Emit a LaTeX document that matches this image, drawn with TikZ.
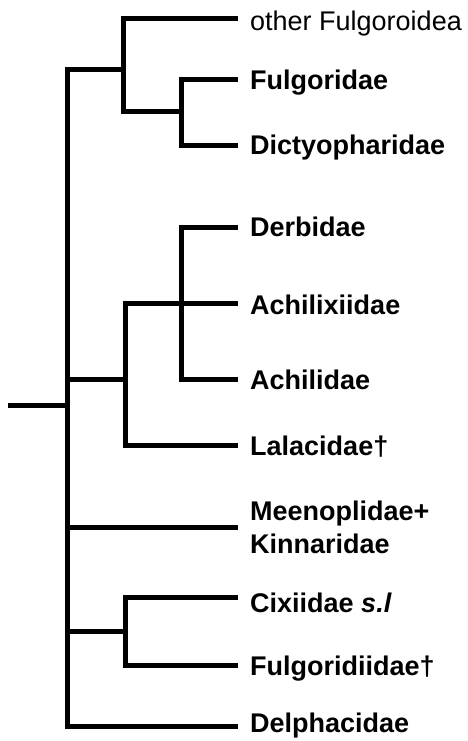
\documentclass[tikz,border=0pt]{standalone}
\usepackage{fontspec}
\setmainfont{Liberation Sans}
\begin{document}
\begin{tikzpicture}[x=1pt,y=-1pt,
  branch/.style={line width=5pt, line join=miter, line cap=butt},
  lab/.style={font=\fontsize{27}{33}\selectfont\bfseries, inner sep=0pt, anchor=base west},
  labn/.style={font=\fontsize{27}{33}\selectfont, inner sep=0pt, anchor=base west}]
\useasboundingbox (0,0) rectangle (468,741);
% leaf end points
\coordinate (l1) at (238,19);
\coordinate (l2) at (238,80);
\coordinate (l3) at (238,145);
\coordinate (l4) at (238,227);
\coordinate (l5) at (238,303);
\coordinate (l6) at (238,379);
\coordinate (l7) at (238,445);
\coordinate (l8) at (238,527);
\coordinate (l9) at (238,597);
\coordinate (l10) at (238,665);
\coordinate (l11) at (238,726);
% internal nodes
\coordinate (root) at (8,405);
\coordinate (n0) at (67,405);
\coordinate (nA) at (123,70);
\coordinate (nB) at (181,112);
\coordinate (nC) at (125,379);
\coordinate (nD) at (181,303);
\coordinate (nE) at (125,631);
% labels
\node[labn] (t1) at (250,31) {other Fulgoroidea};
\node[lab] (t2) at (250,90) {Fulgoridae};
\node[lab] (t3) at (250,154) {Dictyopharidae};
\node[lab] (t4) at (250,236) {Derbidae};
\node[lab] (t5) at (250,314) {Achilixiidae};
\node[lab] (t6) at (250,389) {Achilidae};
\node[lab] (t7) at (250,455) {Lalacidae†};
\node[lab, anchor=west, align=left] (t8) at (250,527) {Meenoplidae+\\Kinnaridae};
\node[lab] (t9) at (250,612) {Cixiidae \textit{s.l}};
\node[lab] (t10) at (250,675) {Fulgoridiidae†};
\node[lab] (t11) at (250,732) {Delphacidae};
% branches
\draw[branch] (root) -- (n0);
\draw[branch] (nA) -| (n0) |- (l11);
\draw[branch] (n0 |- nC) -- (nC);
\draw[branch] (n0 |- l8) -- (l8);
\draw[branch] (n0 |- nE) -- (nE);
\draw[branch] (l1) -| (nA) |- (nB);
\draw[branch] (l2) -| (nB) |- (l3);
\draw[branch] (nD) -| (nC) |- (l7);
\draw[branch] (l4) -| (nD) |- (l6);
\draw[branch] (nD) -- (l5);
\draw[branch] (l9) -| (nE) |- (l10);
\end{tikzpicture}
\end{document}
